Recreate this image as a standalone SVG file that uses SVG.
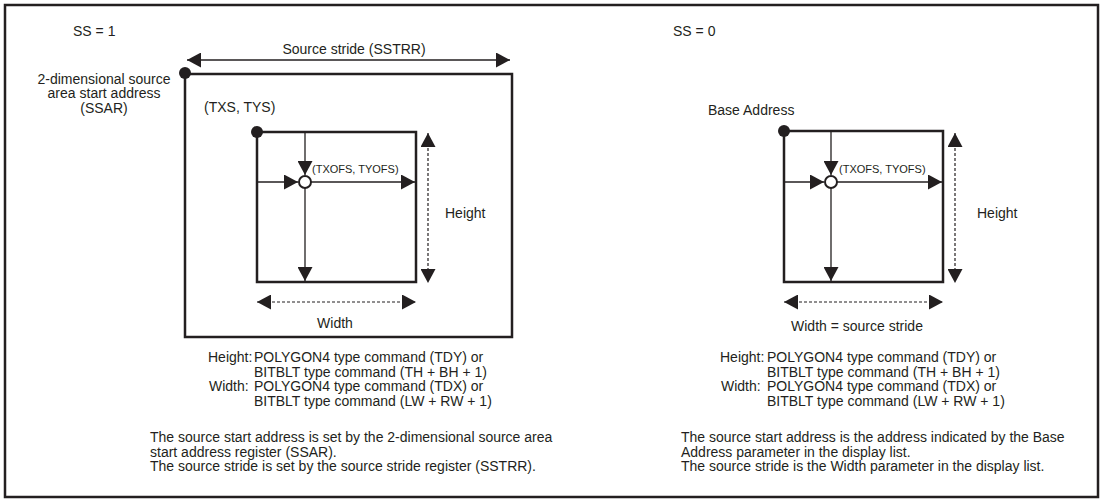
<svg xmlns="http://www.w3.org/2000/svg" width="1103" height="502" viewBox="0 0 1103 502">
<style>
  text { font-family: "Liberation Sans", Arial, Helvetica, sans-serif; font-size: 14px; fill: #231f20; }
  .small { font-size: 11px; }
  .mid { text-anchor: middle; }
  .frame { fill: none; stroke: #231f20; stroke-width: 2.5; }
  .box { fill: none; stroke: #231f20; stroke-width: 2.5; }
  .thin { fill: none; stroke: #231f20; stroke-width: 1.3; }
  .dash { fill: none; stroke: #231f20; stroke-width: 1.2; stroke-dasharray: 3 2; }
  .dot { fill: #231f20; }
  .ring { fill: #ffffff; stroke: #231f20; stroke-width: 2; }
</style>
<defs>
  <marker id="ah" markerUnits="userSpaceOnUse" viewBox="0 0 14 15" markerWidth="14" markerHeight="15" refX="14" refY="7.5" orient="auto-start-reverse">
    <path d="M0,0 L14,7.5 L0,15 Z" fill="#231f20"/>
  </marker>
</defs>

<rect class="frame" x="5" y="5" width="1093" height="492"/>

<!-- Left panel (SS = 1) -->
<g id="left-title"><text x="73" y="36">SS = 1</text></g>

<g id="left-outer-area">
  <rect class="box" x="185" y="74" width="327" height="263"/>
  <circle class="dot" cx="185" cy="73" r="6"/>
  <text class="mid" x="104" y="83.5">2-dimensional source</text>
  <text class="mid" x="104" y="98">area start address</text>
  <text class="mid" x="104" y="112.5">(SSAR)</text>
  <text class="mid" x="354" y="54">Source stride (SSTRR)</text>
</g>

<g id="left-inner-area">
  <rect class="box" x="257" y="132" width="159" height="150"/>
  <circle class="dot" cx="257" cy="132" r="6"/>
  <text x="204" y="112">(TXS, TYS)</text>
</g>

<g id="left-offset-point">
  <circle class="ring" cx="305" cy="182" r="6"/>
  <text class="small" x="312" y="173">(TXOFS, TYOFS)</text>
</g>

<g id="left-labels">
  <text x="445" y="218">Height</text>
  <text class="mid" x="335" y="328">Width</text>
  <text x="208" y="362">Height:</text>
  <text x="254" y="362">POLYGON4 type command (TDY) or</text>
  <text x="254" y="376.5">BITBLT type command (TH + BH + 1)</text>
  <text x="209" y="391">Width:</text>
  <text x="254" y="391">POLYGON4 type command (TDX) or</text>
  <text x="254" y="405.5">BITBLT type command (LW + RW + 1)</text>
  <text x="150" y="442">The source start address is set by the 2-dimensional source area</text>
  <text x="150" y="456.5">start address register (SSAR).</text>
  <text x="150" y="471">The source stride is set by the source stride register (SSTRR).</text>
</g>

<!-- Right panel (SS = 0) -->
<g id="right-title"><text x="673" y="36">SS = 0</text></g>

<g id="right-inner-area">
  <rect class="box" x="784" y="131" width="159" height="151"/>
  <circle class="dot" cx="784" cy="131" r="6"/>
  <text x="708" y="114.5">Base Address</text>
</g>

<g id="right-offset-point">
  <circle class="ring" cx="831" cy="182" r="6"/>
  <text class="small" x="839" y="173">(TXOFS, TYOFS)</text>
</g>

<g id="right-labels">
  <text x="977" y="218">Height</text>
  <text class="mid" x="857" y="331">Width = source stride</text>
  <text x="720" y="362">Height:</text>
  <text x="767" y="362">POLYGON4 type command (TDY) or</text>
  <text x="767" y="376.5">BITBLT type command (TH + BH + 1)</text>
  <text x="721" y="391">Width:</text>
  <text x="767" y="391">POLYGON4 type command (TDX) or</text>
  <text x="767" y="405.5">BITBLT type command (LW + RW + 1)</text>
  <text x="681" y="442">The source start address is the address indicated by the Base</text>
  <text x="681" y="456.5">Address parameter in the display list.</text>
  <text x="681" y="471">The source stride is the Width parameter in the display list.</text>
</g>

<g id="connectors">
  <!-- left -->
  <line class="thin" x1="187" y1="60" x2="510" y2="60" marker-start="url(#ah)" marker-end="url(#ah)"/>
  <line class="thin" x1="305" y1="132" x2="305" y2="175" marker-end="url(#ah)"/>
  <line class="thin" x1="257" y1="182" x2="298" y2="182" marker-end="url(#ah)"/>
  <line class="thin" x1="311" y1="182" x2="415" y2="182" marker-end="url(#ah)"/>
  <line class="thin" x1="305" y1="188" x2="305" y2="281" marker-end="url(#ah)"/>
  <line class="dash" x1="428" y1="133" x2="428" y2="283" marker-start="url(#ah)" marker-end="url(#ah)"/>
  <line class="dash" x1="257" y1="302" x2="416" y2="302" marker-start="url(#ah)" marker-end="url(#ah)"/>
  <!-- right -->
  <line class="thin" x1="831" y1="131" x2="831" y2="175" marker-end="url(#ah)"/>
  <line class="thin" x1="784" y1="182" x2="824" y2="182" marker-end="url(#ah)"/>
  <line class="thin" x1="837" y1="182" x2="942" y2="182" marker-end="url(#ah)"/>
  <line class="thin" x1="831" y1="188" x2="831" y2="281" marker-end="url(#ah)"/>
  <line class="dash" x1="955" y1="133" x2="955" y2="283" marker-start="url(#ah)" marker-end="url(#ah)"/>
  <line class="dash" x1="784" y1="302" x2="943" y2="302" marker-start="url(#ah)" marker-end="url(#ah)"/>
</g>
</svg>
